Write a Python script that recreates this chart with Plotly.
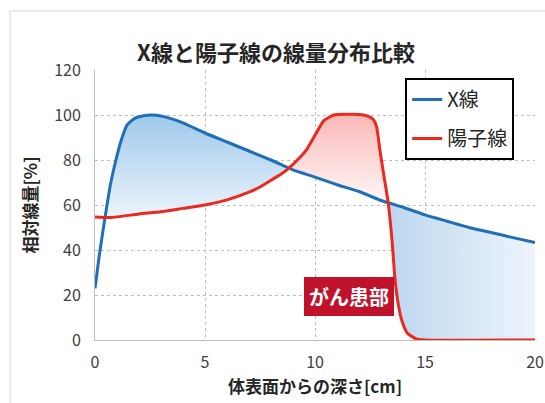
import numpy as np
import plotly.graph_objects as go

# ---- data ----
xray_x = [0, 0.2, 0.46, 0.7, 0.95, 1.2, 1.46, 1.8, 2.2, 2.6, 3.0, 3.5, 4, 5, 6, 7, 8, 9,
          10, 11, 12, 13, 14, 15, 16, 17, 18, 19, 20]
xray_y = [23, 38, 54.7, 69, 80, 89, 95.6, 98.5, 99.7, 100, 99.6, 98.3, 96.5, 92, 88, 84, 80, 75.6,
          72.4, 69, 66, 62, 59, 55.6, 52.8, 50, 47.8, 45.5, 43.3]

proton_x = [0, 0.7, 2, 3, 4, 5, 6, 7, 7.5, 8, 8.5, 8.8, 9.2, 9.6, 10, 10.4, 10.85, 11.5, 12,
            12.4, 12.65, 12.8, 12.95, 13.1, 13.33, 13.5, 13.64, 13.8, 13.94, 14.2, 14.6, 15, 20]
proton_y = [54.7, 54.4, 56, 57, 58.5, 60, 62.3, 65.7, 68, 71, 74, 76.3, 80, 84.4, 91, 97.5, 100,
            100.3, 100.2, 99.5, 98, 94.8, 84.4, 75, 60.7, 44.4, 26.7, 15, 8.9, 3, 0.5, 0, 0]

x_ticks = [0, 5, 10, 15, 20]
y_ticks = [0, 20, 40, 60, 80, 100, 120]

names = ["X線", "陽子線"]
title_text = "X線と陽子線の線量分布比較"
x_title = "体表面からの深さ[cm]"
y_title = "相対線量[%]"
label_text = "がん患部"

BLUE = "#1f6fb8"
RED = "#ea2a1e"
FONT = "Noto Sans CJK JP"

xb, yb = np.array(xray_x, float), np.array(xray_y, float)
xp, yp = np.array(proton_x, float), np.array(proton_y, float)

# crossings of the two curves (computed from the data)
grid = np.union1d(xb, xp)
d = np.interp(grid, xb, yb) - np.interp(grid, xp, yp)
cross = []
for i in range(len(grid) - 1):
    if d[i] == 0:
        cross.append(grid[i])
    elif d[i] * d[i + 1] < 0:
        t = d[i] / (d[i] - d[i + 1])
        cross.append(grid[i] + t * (grid[i + 1] - grid[i]))
cross.append(grid[-1])


def segment(xs, ys, a, b):
    m = (xs > a) & (xs < b)
    sx = np.concatenate([[a], xs[m], [b]])
    sy = np.concatenate([[np.interp(a, xs, ys)], ys[m], [np.interp(b, xs, ys)]])
    return sx, sy


fig = go.Figure()

regions = [
    (cross[0], cross[1], "x", dict(type="vertical", start=55, stop=100,
                                    colorscale=[[0, "rgba(236,244,252,1)"], [1, "rgba(158,200,234,1)"]])),
    (cross[1], cross[2], "p", dict(type="vertical", start=62, stop=100,
                                    colorscale=[[0, "rgba(255,246,246,1)"], [1, "rgba(250,184,184,1)"]])),
    (cross[2], cross[3], "x", dict(type="horizontal", start=13.3, stop=20,
                                    colorscale=[[0, "rgba(188,215,240,1)"], [1, "rgba(238,244,251,1)"]])),
]

for a, b, up, grad in regions:
    bx, by = segment(xb, yb, a, b)
    px_, py_ = segment(xp, yp, a, b)
    if up == "x":
        lo, hi = (px_, py_), (bx, by)
    else:
        lo, hi = (bx, by), (px_, py_)
    fig.add_trace(go.Scatter(x=lo[0], y=lo[1], mode="lines", line=dict(width=0, shape="spline", smoothing=0.5),
                             showlegend=False, hoverinfo="skip"))
    fig.add_trace(go.Scatter(x=hi[0], y=hi[1], mode="lines", line=dict(width=0, shape="spline", smoothing=0.5),
                             fill="tonexty", fillgradient=grad, showlegend=False, hoverinfo="skip"))

fig.add_trace(go.Scatter(x=xb, y=yb, mode="lines", name=names[0], legendgroup="a",
                         line=dict(color=BLUE, width=3, shape="spline", smoothing=0.5)))
fig.add_trace(go.Scatter(x=xp, y=yp, mode="lines", name=names[1], legendgroup="b",
                         line=dict(color=RED, width=3, shape="spline", smoothing=0.5)))

fig.add_annotation(x=11.55, y=19.5, xref="x", yref="y", text="<b>" + label_text + "</b>",
                   showarrow=False, font=dict(family=FONT, size=20, color="white"),
                   bgcolor="#c0132b", bordercolor="#c0132b", borderwidth=1, borderpad=4)

# outer light frame
fig.add_shape(type="rect", xref="paper", yref="paper", x0=-0.193, x1=1.2, y0=-0.4, y1=1.2185,
              line=dict(color="#d9d9d9", width=1), fillcolor="rgba(0,0,0,0)", layer="below")

fig.update_layout(
    width=545, height=403,
    margin=dict(l=95, r=10, t=70, b=63, autoexpand=False),
    paper_bgcolor="white", plot_bgcolor="white",
    font=dict(family=FONT, color="#404040"),
    title=dict(text="<b>" + title_text + "</b>", x=276 / 545, xanchor="center",
               y=1 - 53 / 403, yanchor="middle", font=dict(size=22, color="#262626", family=FONT)),
    legend=dict(x=0.705, y=0.97, xanchor="left", yanchor="top", bgcolor="white",
                bordercolor="black", borderwidth=2, font=dict(size=20, color="#262626", family=FONT),
                tracegroupgap=10, itemwidth=30),
    showlegend=True,
)

fig.update_xaxes(range=[0, 20], tickvals=x_ticks, ticktext=[str(v) for v in x_ticks],
                 showgrid=True, gridcolor="#bfbfbf", griddash="dot", gridwidth=1,
                 showline=True, linecolor="#bfbfbf", linewidth=1, zeroline=False, automargin=False,
                 ticks="", ticklabelstandoff=8, tickfont=dict(size=16, color="#404040"),
                 title=dict(text="<b>" + x_title + "</b>", font=dict(size=17, color="#262626"), standoff=4))
fig.update_yaxes(range=[0, 120], tickvals=y_ticks, ticktext=[str(v) for v in y_ticks],
                 showgrid=True, gridcolor="#bfbfbf", griddash="dot", gridwidth=1,
                 showline=True, linecolor="#bfbfbf", linewidth=1, zeroline=False, automargin=False,
                 ticks="", ticklabelstandoff=10, tickfont=dict(size=16, color="#404040"),
                 title=dict(text="<b>" + y_title + "</b>", font=dict(size=17, color="#262626"), standoff=12))

fig.write_html("out.html")
